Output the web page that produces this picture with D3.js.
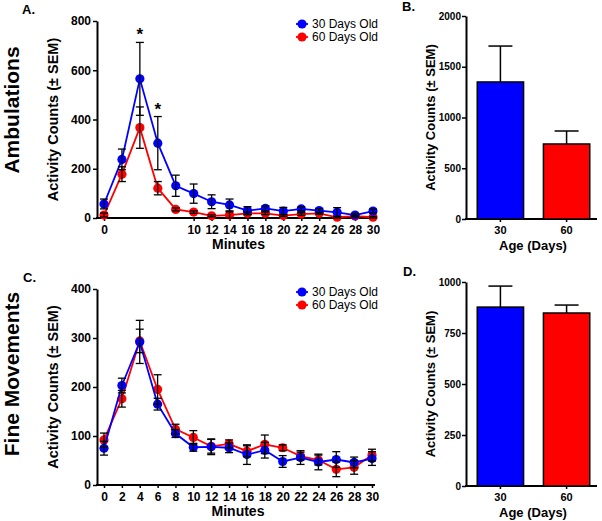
<!DOCTYPE html>
<html><head><meta charset="utf-8">
<script src="https://cdn.jsdelivr.net/npm/d3@7"></script>
<style>
body{margin:0;background:#fff}
svg{display:block}
text{font-family:"Liberation Sans",Arial,Helvetica,sans-serif}
</style>
</head><body>
<svg id="c" width="602" height="521"></svg>
<script>
// ---------- data ----------
const minutes = [0,2,4,6,8,10,12,14,16,18,20,22,24,26,28,30];
const seriesNames = ["30 Days Old","60 Days Old"];

const ambul30    = [57,238,565,304,131,99,66,53,30,39,28,37,30,23,12,28];
const ambul30Sem = [20,42,148,108,43,39,28,24,16,10,15,8,8,19,6,8];
const ambul60    = [12,178,367,121,35,24,9,12,19,19,10,16,19,3,8,3];
const ambul60Sem = [8,30,84,27,6,5,4,13,5,5,4,5,4,3,3,3];
const ambulSig   = [4,6];

const fine30    = [75,203,292,165,105,77,78,76,62,71,48,56,47,52,46,54];
const fine30Sem = [14,15,44,12,8,8,16,10,20,16,12,14,16,16,11,14];
const fine60    = [92,176,294,195,114,97,79,84,69,83,76,59,51,32,36,61];
const fine60Sem = [14,17,24,30,10,14,14,8,11,19,6,8,10,15,14,12];

const ages = ["30","60"];
const ambulTotal    = [1350,739];
const ambulTotalSem = [354,128];
const fineTotal     = [877,848];
const fineTotalSem  = [103,39];

const ambulXTicks = [0,10,12,14,16,18,20,22,24,26,28,30];
const fineXTicks  = [0,2,4,6,8,10,12,14,16,18,20,22,24,26,28,30];
const ambulYTicks = [0,200,400,600,800];
const fineYTicks  = [0,100,200,300,400];
const ambulTotYTicks = [0,500,1000,1500,2000];
const fineTotYTicks  = [0,250,500,750,1000];

// ---------- drawing ----------
const BLUE = "#0000ff", RED = "#ff0000";
const svg = d3.select("#c");

function styleAxis(g, fs){
  g.selectAll(".domain").attr("stroke","#000").attr("stroke-width",2);
  g.selectAll(".tick line").attr("stroke","#000").attr("stroke-width",1.5);
  g.selectAll(".tick text").attr("fill","#000").attr("font-weight","bold")
    .attr("font-size",fs).attr("font-family",'"Liberation Sans",Arial,sans-serif');
}

function timePanel(o){
  const x = d3.scaleLinear().domain([0,30]).range([o.x0,o.x1]);
  const y = d3.scaleLinear().domain([0,o.ymax]).range([o.yb,o.yt]);

  const ya = svg.append("g").attr("transform",`translate(${o.ax},0)`)
    .call(d3.axisLeft(y).tickValues(o.yticks).tickFormat(d3.format("d")).tickSize(4).tickSizeOuter(0).tickPadding(2));
  styleAxis(ya, 12);

  const xa = svg.append("g").attr("transform",`translate(0,${o.yb})`)
    .call(d3.axisBottom(x).tickValues(o.xticks).tickFormat(d3.format("d")).tickSize(3).tickSizeOuter(0).tickPadding(4));
  styleAxis(xa, 12);
  xa.select(".domain").remove();
  svg.append("line").attr("x1",o.ax-1).attr("x2",o.x1+3).attr("y1",o.yb).attr("y2",o.yb)
    .attr("stroke","#000").attr("stroke-width",2);

  const line = d3.line().x((d,i)=>x(minutes[i])).y(d=>y(d));
  const series = [
    {v:o.s60, e:o.e60, c:RED},
    {v:o.s30, e:o.e30, c:BLUE}
  ];
  series.forEach(s=>{
    svg.append("path").datum(s.v).attr("d",line).attr("fill","none")
      .attr("stroke",s.c).attr("stroke-width",1.8);
    svg.append("g").selectAll("circle").data(s.v).join("circle")
      .attr("cx",(d,i)=>x(minutes[i])).attr("cy",d=>y(d)).attr("r",4.6).attr("fill",s.c);
  });
  series.forEach(s=>{
    const g = svg.append("g").attr("stroke","#000").attr("stroke-width",1.3);
    s.v.forEach((v,i)=>{
      const cx = x(minutes[i]), t = y(v + s.e[i]), b = y(Math.max(0,v - s.e[i]));
      g.append("line").attr("x1",cx).attr("x2",cx).attr("y1",t).attr("y2",b);
      g.append("line").attr("x1",cx-4).attr("x2",cx+4).attr("y1",t).attr("y2",t);
      g.append("line").attr("x1",cx-4).attr("x2",cx+4).attr("y1",b).attr("y2",b);
    });
  });
  if(o.sig){
    o.sig.forEach(m=>{
      const i = minutes.indexOf(m);
      svg.append("text").attr("x",x(m)).attr("y",y(o.s30[i]+o.e30[i])-2)
        .attr("text-anchor","middle").attr("font-size",17).attr("font-weight","bold").text("*");
    });
  }
  // axis titles
  svg.append("text").attr("x",(o.x0+o.x1)/2).attr("y",o.yb+31).attr("text-anchor","middle")
    .attr("font-size",14).attr("font-weight","bold").text("Minutes");
  svg.append("text").attr("transform",`translate(${o.ax-39},${(o.yt+o.yb)/2}) rotate(-90)`)
    .attr("text-anchor","middle").attr("font-size",14.5).attr("font-weight","bold")
    .text("Activity Counts (\u00b1 SEM)");
  // legend
  [[seriesNames[0],BLUE,o.legY],[seriesNames[1],RED,o.legY+13]].forEach(([t,c,ly])=>{
    svg.append("line").attr("x1",296).attr("x2",308).attr("y1",ly).attr("y2",ly).attr("stroke",c).attr("stroke-width",1.8);
    svg.append("circle").attr("cx",302).attr("cy",ly).attr("r",4.6).attr("fill",c);
    svg.append("text").attr("x",312).attr("y",ly+4.2).attr("font-size",12).text(t);
  });
  // panel letter & row title
  svg.append("text").attr("x",o.letX).attr("y",o.letY).attr("font-size",13).attr("font-weight","bold").text(o.letter);
  svg.append("text").attr("transform",`translate(19,${o.rowY}) rotate(-90)`)
    .attr("text-anchor","middle").attr("font-size",21).attr("font-weight","bold").text(o.row);
}

function barPanel(o){
  const x = d3.scaleBand().domain(ages).range([466,601]).paddingInner(0.3).paddingOuter(0.17);
  const y = d3.scaleLinear().domain([0,o.ymax]).range([o.yb,o.yt]);

  const ya = svg.append("g").attr("transform",`translate(466,0)`)
    .call(d3.axisLeft(y).tickValues(o.yticks).tickFormat(d3.format("d")).tickSize(4).tickSizeOuter(0).tickPadding(1));
  styleAxis(ya, 10);
  const xa = svg.append("g").attr("transform",`translate(0,${o.yb})`)
    .call(d3.axisBottom(x).tickSize(3).tickSizeOuter(0).tickPadding(4));
  styleAxis(xa, 11);
  xa.select(".domain").remove();
  svg.append("line").attr("x1",465).attr("x2",597).attr("y1",o.yb).attr("y2",o.yb)
    .attr("stroke","#000").attr("stroke-width",2);

  const cols = [BLUE,RED];
  svg.append("g").selectAll("rect").data(o.v).join("rect")
    .attr("x",(d,i)=>x(ages[i])).attr("width",x.bandwidth())
    .attr("y",d=>y(d)).attr("height",d=>o.yb-y(d))
    .attr("fill",(d,i)=>cols[i]).attr("stroke","#000").attr("stroke-width",1.5);
  const g = svg.append("g").attr("stroke","#000").attr("stroke-width",1.5);
  o.v.forEach((v,i)=>{
    const cx = x(ages[i])+x.bandwidth()/2, t = y(v+o.e[i]);
    g.append("line").attr("x1",cx).attr("x2",cx).attr("y1",y(v)).attr("y2",t);
    g.append("line").attr("x1",cx-12).attr("x2",cx+12).attr("y1",t).attr("y2",t);
  });
  svg.append("text").attr("x",533).attr("y",o.yb+31).attr("text-anchor","middle")
    .attr("font-size",13).attr("font-weight","bold").text("Age (Days)");
  svg.append("text").attr("transform",`translate(435,${(o.yt+o.yb)/2}) rotate(-90)`)
    .attr("text-anchor","middle").attr("font-size",13).attr("font-weight","bold")
    .text("Activity Counts (\u00b1 SEM)");
  svg.append("text").attr("x",o.letX).attr("y",o.letY).attr("font-size",13).attr("font-weight","bold").text(o.letter);
}

timePanel({x0:104,x1:373,ax:97,yb:218,yt:21,ymax:800,yticks:ambulYTicks,xticks:ambulXTicks,
  s30:ambul30,e30:ambul30Sem,s60:ambul60,e60:ambul60Sem,sig:ambulSig,legY:24,
  letter:"A.",letX:22,letY:14,row:"Ambulations",rowY:110});
timePanel({x0:104,x1:372,ax:97,yb:485,yt:289,ymax:400,yticks:fineYTicks,xticks:fineXTicks,
  s30:fine30,e30:fine30Sem,s60:fine60,e60:fine60Sem,sig:null,legY:292,
  letter:"C.",letX:23,letY:282,row:"Fine Movements",rowY:374});
barPanel({yb:219,yt:16,ymax:2000,yticks:ambulTotYTicks,v:ambulTotal,e:ambulTotalSem,letter:"B.",letX:402,letY:11});
barPanel({yb:486,yt:282,ymax:1000,yticks:fineTotYTicks,v:fineTotal,e:fineTotalSem,letter:"D.",letX:403,letY:276});
</script>
</body></html>
